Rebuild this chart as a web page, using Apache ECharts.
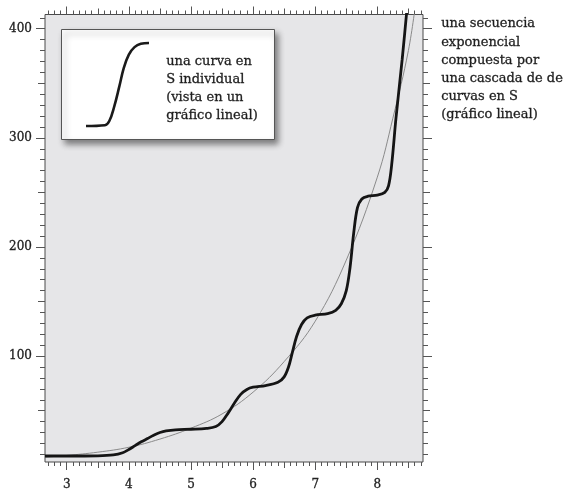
<!DOCTYPE html>
<html><head><meta charset="utf-8">
<script src="https://cdn.jsdelivr.net/npm/echarts@6/dist/echarts.min.js"></script>
<style>html,body{margin:0;padding:0;background:#fff}#c{width:567px;height:492px}</style>
</head><body><div id="c"></div><script>
// ---- data ----
const xTickLabels = [3, 4, 5, 6, 7, 8];
const yTickLabels = [100, 200, 300, 400];

const expX = [2.65, 3.0, 3.5, 4.0, 4.5, 5.0, 5.5, 6.0, 6.5, 7.0, 7.5, 8.0, 8.25, 8.5, 8.62];
const expY = [7.5, 9, 12, 16.5, 24, 34, 47, 67, 95, 132, 188, 264, 318, 380, 425];

const cascadeX = [2.65, 3.0, 3.5, 3.75, 3.9, 4.0, 4.1, 4.2, 4.3, 4.4, 4.5, 4.6, 4.75, 5.0, 5.25, 5.4, 5.5, 5.6, 5.7, 5.8, 5.9, 6.0, 6.2, 6.4, 6.5, 6.57, 6.63, 6.7, 6.78, 6.87, 7.0, 7.2, 7.33, 7.42, 7.5, 7.56, 7.62, 7.68, 7.75, 7.85, 8.0, 8.12, 8.18, 8.23, 8.3, 8.4, 8.5];
const cascadeY = [8.5, 8.5, 8.7, 9.5, 11.5, 14.5, 18, 21.5, 24.5, 27.5, 30, 31.5, 32.5, 33, 33.8, 35.5, 40, 48, 57, 65, 69.5, 71.5, 73, 76, 81, 90, 103, 118, 129, 135, 137.5, 139, 142, 148, 160, 181, 213, 236, 244, 246.5, 247.5, 250, 256, 275, 318, 372, 432];

const sCurveX = [0, 0.3, 0.37, 0.45, 0.53, 0.6, 0.68, 0.77, 0.87, 1];
const sCurveY = [0, 0.01, 0.06, 0.24, 0.48, 0.7, 0.86, 0.95, 0.99, 1];

const legendText = 'una curva en\nS individual\n(vista en un\ngráfico lineal)';
const sideText = 'una secuencia\nexponencial\ncompuesta por\nuna cascada de de\ncurvas en S\n(gráfico lineal)';

// ---- layout ----
const X_MIN = 2.65, X_MAX = 8.735, Y_MIN = 3, Y_MAX = 413;
const G = {left: 45, top: 14.5, width: 378, height: 447.5};
const FONT = 'DejaVu Serif';
const TICK = '#555';

function range(a, b, s) { const r = []; for (let v = a; v <= b + 1e-9; v += s) r.push(Math.round(v * 100) / 100); return r; }
const xMajor = xTickLabels;
const xHalf = range(2.5, 8.5, 1).filter(v => v > X_MIN);
const xMinor = range(2.7, 8.7, 0.1).filter(v => Math.abs(v * 2 - Math.round(v * 2)) > 1e-6);
const yMajor = yTickLabels;
const yHalf = [50, 150, 250, 350];
const yMinor = range(10, 410, 10).filter(v => v % 50 !== 0);

const tickSets = [[xMajor, yMajor, 8], [xHalf, yHalf, 6], [xMinor, yMinor, 4]];
const labelStyle = {fontFamily: FONT, fontSize: 12, color: '#222', textBorderColor: '#222', textBorderWidth: 0.3};

const grids = [], xAxes = [], yAxes = [];
tickSets.forEach((ts, gi) => {
  grids.push(Object.assign({}, G, gi === 0 ? {show: true, backgroundColor: '#e6e6e8', borderColor: '#4a4a4a', borderWidth: 1} : {show: false}));
  ['bottom', 'top'].forEach(pos => {
    xAxes.push({
      type: 'value', gridIndex: gi, position: pos, min: X_MIN, max: X_MAX,
      axisLine: {show: false}, splitLine: {show: false},
      axisTick: {show: true, customValues: ts[0], length: ts[2], lineStyle: {color: TICK, width: 1}},
      axisLabel: (gi === 0 && pos === 'bottom') ? Object.assign({show: true, customValues: xTickLabels, margin: 17}, labelStyle) : {show: false}
    });
  });
  ['left', 'right'].forEach(pos => {
    yAxes.push({
      type: 'value', gridIndex: gi, position: pos, min: Y_MIN, max: Y_MAX,
      axisLine: {show: false}, splitLine: {show: false},
      axisTick: {show: true, customValues: ts[1], length: ts[2] + 1, lineStyle: {color: TICK, width: 1}},
      axisLabel: (gi === 0 && pos === 'left') ? Object.assign({show: true, customValues: yTickLabels, margin: 13}, labelStyle) : {show: false}
    });
  });
});
// legend icon grid
grids.push({left: 86, top: 43, width: 63, height: 83, show: false});
xAxes.push({type: 'value', gridIndex: 3, min: 0, max: 1, show: false});
yAxes.push({type: 'value', gridIndex: 3, min: 0, max: 1, show: false});

const zip = (a, b) => a.map((v, i) => [v, b[i]]);

const chart = echarts.init(document.getElementById('c'), null, {renderer: 'canvas'});
chart.setOption({
  animation: false,
  backgroundColor: '#fff',
  grid: grids,
  xAxis: xAxes,
  yAxis: yAxes,
  series: [
    {type: 'line', xAxisIndex: 0, yAxisIndex: 0, data: zip(expX, expY), smooth: 0.4,
     showSymbol: false, lineStyle: {color: '#8a8a8a', width: 1}, z: 3},
    {type: 'line', xAxisIndex: 0, yAxisIndex: 0, data: zip(cascadeX, cascadeY), smooth: 0.35,
     showSymbol: false, lineStyle: {color: '#151515', width: 2.8}, z: 4},
    {type: 'line', xAxisIndex: 6, yAxisIndex: 6, data: zip(sCurveX, sCurveY), smooth: 0.4,
     showSymbol: false, clip: false, lineStyle: {color: '#1a1a1a', width: 2.6}, z: 20}
  ],
  graphic: [
    {type: 'rect', z: 10, shape: {x: 61.5, y: 29.5, width: 213, height: 110},
     style: {fill: '#fff', stroke: '#555', lineWidth: 1, shadowBlur: 6, shadowColor: 'rgba(0,0,0,0.45)', shadowOffsetX: 3, shadowOffsetY: 4}},
    {type: 'text', z: 21, left: 166, top: 53,
     style: {text: legendText, font: '13px "DejaVu Serif"', fill: '#1e1e1e', stroke: '#1e1e1e', lineWidth: 0.3, lineHeight: 18}},
    {type: 'text', z: 21, left: 441, top: 15,
     style: {text: sideText, font: '13px "DejaVu Serif"', fill: '#1e1e1e', stroke: '#1e1e1e', lineWidth: 0.3, lineHeight: 18.2}}
  ]
});
</script></body></html>
